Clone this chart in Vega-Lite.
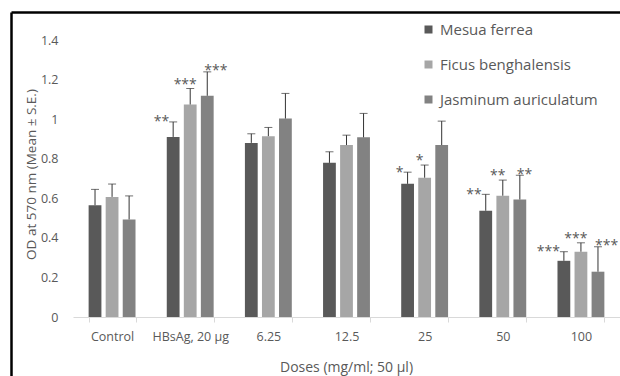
{
  "$schema": "https://vega.github.io/schema/vega-lite/v6.json",
  "autosize": "none",
  "padding": {"left": 11, "top": 12, "right": 0, "bottom": 0},
  "width": 609,
  "height": 364,
  "config": {
    "font": "Open Sans",
    "view": {"stroke": null},
    "axis": {"grid": false, "labelFont": "Open Sans", "titleFont": "Open Sans", "labelColor": "#595959", "titleColor": "#595959", "titleFontWeight": "normal"}
  },
  "data": {
    "values": [
      {"dose": "Control", "species": "Mesua ferrea", "mean": 0.565, "upper": 0.645, "sig": ""},
      {"dose": "Control", "species": "Ficus benghalensis", "mean": 0.607, "upper": 0.672, "sig": ""},
      {"dose": "Control", "species": "Jasminum auriculatum", "mean": 0.493, "upper": 0.612, "sig": ""},
      {"dose": "HBsAg, 20 µg", "species": "Mesua ferrea", "mean": 0.91, "upper": 0.986, "sig": "**"},
      {"dose": "HBsAg, 20 µg", "species": "Ficus benghalensis", "mean": 1.074, "upper": 1.155, "sig": "***"},
      {"dose": "HBsAg, 20 µg", "species": "Jasminum auriculatum", "mean": 1.118, "upper": 1.239, "sig": "***"},
      {"dose": "6.25", "species": "Mesua ferrea", "mean": 0.88, "upper": 0.926, "sig": ""},
      {"dose": "6.25", "species": "Ficus benghalensis", "mean": 0.914, "upper": 0.958, "sig": ""},
      {"dose": "6.25", "species": "Jasminum auriculatum", "mean": 1.003, "upper": 1.13, "sig": ""},
      {"dose": "12.5", "species": "Mesua ferrea", "mean": 0.779, "upper": 0.835, "sig": ""},
      {"dose": "12.5", "species": "Ficus benghalensis", "mean": 0.869, "upper": 0.919, "sig": ""},
      {"dose": "12.5", "species": "Jasminum auriculatum", "mean": 0.908, "upper": 1.029, "sig": ""},
      {"dose": "25", "species": "Mesua ferrea", "mean": 0.673, "upper": 0.732, "sig": "*"},
      {"dose": "25", "species": "Ficus benghalensis", "mean": 0.704, "upper": 0.768, "sig": "*"},
      {"dose": "25", "species": "Jasminum auriculatum", "mean": 0.869, "upper": 0.99, "sig": ""},
      {"dose": "50", "species": "Mesua ferrea", "mean": 0.537, "upper": 0.62, "sig": "**"},
      {"dose": "50", "species": "Ficus benghalensis", "mean": 0.613, "upper": 0.692, "sig": "**"},
      {"dose": "50", "species": "Jasminum auriculatum", "mean": 0.594, "upper": 0.717, "sig": "**"},
      {"dose": "100", "species": "Mesua ferrea", "mean": 0.284, "upper": 0.33, "sig": "***"},
      {"dose": "100", "species": "Ficus benghalensis", "mean": 0.33, "upper": 0.375, "sig": "***"},
      {"dose": "100", "species": "Jasminum auriculatum", "mean": 0.229, "upper": 0.355, "sig": "***"}
    ]
  },
  "layer": [
    {
      "encoding": {
        "x": {
          "field": "dose", "type": "nominal", "sort": null,
          "scale": {"range": [62, 609], "paddingInner": 0.4, "paddingOuter": 0.2},
          "axis": {
            "title": "Doses (mg/ml; 50 µl)", "orient": "bottom", "offset": -59, "labelAngle": 0,
            "domainColor": "#d9d9d9", "tickColor": "#d9d9d9", "tickBand": "extent", "tickSize": 5,
            "labelPadding": 8, "labelFontSize": 12.5, "titleFontSize": 14,
            "titleBaseline": "alphabetic", "titleY": 54, "titleX": 335
          }
        },
        "xOffset": {
          "field": "species", "type": "nominal", "sort": ["Mesua ferrea", "Ficus benghalensis", "Jasminum auriculatum"],
          "scale": {"paddingInner": 0.25, "paddingOuter": 0}
        }
      },
      "layer": [
        {
          "mark": {"type": "bar"},
          "encoding": {
            "y": {
              "field": "mean", "type": "quantitative",
              "scale": {"domain": [0, 1.4], "range": [305, 28], "nice": false},
              "axis": {
                "title": "OD at 570 nm (Mean ± S.E.)", "orient": "left", "offset": -49, "domain": false, "ticks": false,
                "labelPadding": 2, "labelFontSize": 12.5, "titleFontSize": 13.5, "format": "~g",
                "values": [0, 0.2, 0.4, 0.6, 0.8, 1, 1.2, 1.4],
                "titleX": -29, "titleY": 162, "titleBaseline": "middle", "titleAngle": -90
              }
            },
            "color": {
              "field": "species", "type": "nominal",
              "sort": ["Mesua ferrea", "Ficus benghalensis", "Jasminum auriculatum"],
              "scale": {"range": ["#595959", "#a6a6a6", "#828282"]},
              "legend": {
                "title": null, "orient": "none", "legendX": 410, "legendY": 10, "padding": 0,
                "symbolType": "square", "symbolSize": 64, "symbolStrokeWidth": 0,
                "labelFontSize": 15, "labelColor": "#595959", "labelFont": "Open Sans",
                "labelOffset": 4, "rowPadding": 19
              }
            }
          }
        },
        {
          "mark": {"type": "rule", "color": "#333333", "strokeWidth": 1},
          "encoding": {
            "y": {"field": "mean", "type": "quantitative"},
            "y2": {"field": "upper"}
          }
        },
        {
          "mark": {"type": "tick", "color": "#333333", "thickness": 1, "size": 8, "orient": "horizontal"},
          "encoding": {
            "y": {"field": "upper", "type": "quantitative"}
          }
        },
        {
          "transform": [{"filter": "datum.species === 'Mesua ferrea' && datum.sig !== ''"}],
          "mark": {"type": "text", "align": "right", "baseline": "alphabetic", "dx": -4, "dy": 4.4, "fontSize": 14, "color": "#595959", "font": "Open Sans"},
          "encoding": {
            "y": {"field": "upper", "type": "quantitative"},
            "text": {"field": "sig"}
          }
        },
        {
          "transform": [{"filter": "datum.species === 'Ficus benghalensis' && datum.sig !== ''"}],
          "mark": {"type": "text", "align": "center", "baseline": "alphabetic", "dx": -5, "dy": 0.4, "fontSize": 14, "color": "#595959", "font": "Open Sans"},
          "encoding": {
            "y": {"field": "upper", "type": "quantitative"},
            "text": {"field": "sig"}
          }
        },
        {
          "transform": [{"filter": "datum.species === 'Jasminum auriculatum' && datum.sig !== ''"}],
          "mark": {"type": "text", "align": "left", "baseline": "alphabetic", "dx": -3, "dy": 3.4, "fontSize": 14, "color": "#595959", "font": "Open Sans"},
          "encoding": {
            "y": {"field": "upper", "type": "quantitative"},
            "text": {"field": "sig"}
          }
        }
      ]
    },
    {
      "mark": {"type": "point", "opacity": 0},
      "encoding": {
        "x": {
          "field": "mean", "type": "quantitative",
          "scale": {"domain": [0, 1], "range": [0, 620], "nice": false, "zero": false},
          "axis": {"orient": "top", "title": null, "labels": false, "ticks": false, "grid": false, "domainColor": "black", "domainWidth": 2.5, "offset": 0}
        },
        "y": {
          "field": "mean", "type": "quantitative",
          "scale": {"domain": [0, 1], "range": [0, 380], "nice": false, "zero": false},
          "axis": {"orient": "left", "title": null, "labels": false, "ticks": false, "grid": false, "domainColor": "black", "domainWidth": 2.5, "offset": 0}
        }
      }
    }
  ],
  "resolve": {"scale": {"x": "independent", "y": "independent"}}
}
